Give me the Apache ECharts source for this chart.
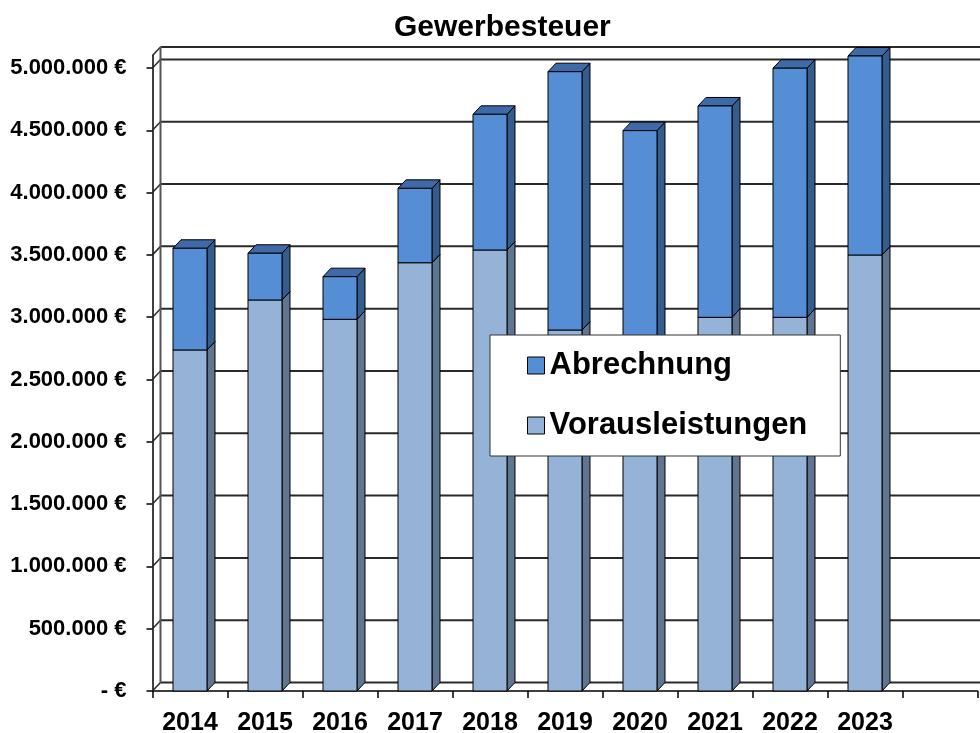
<!DOCTYPE html>
<html><head><meta charset="utf-8">
<script src="https://cdn.jsdelivr.net/npm/echarts@6/dist/echarts.min.js"></script>
<style>html,body{margin:0;padding:0;background:#fff}#c{width:980px;height:733px}</style>
</head><body><div id="c"></div>
<script>
// ---- data ----
const categories = ['2014','2015','2016','2017','2018','2019','2020','2021','2022','2023',''];
const vorausleistungen = [2737000, 3138000, 2983000, 3437000, 3539000, 2897000, 2600000, 2999000, 2999000, 3499000];
const abrechnung = [816000, 375000, 342000, 597000, 1089000, 2073000, 1897000, 1696000, 1999000, 1597000];
const yTicks = [0, 500000, 1000000, 1500000, 2000000, 2500000, 3000000, 3500000, 4000000, 4500000, 5000000];
const yMax = 5100000;
const seriesNames = ['Vorausleistungen', 'Abrechnung'];

// ---- styling ----
const DX = 8, DY = -8.5, BAR_RATIO = 0.453;
const FONT = 'Arial, "Liberation Sans", sans-serif';

function fmt(v) {
  if (v === 0) return '- €';
  if (v % 500000 !== 0) return '';
  return String(v).replace(/\B(?=(\d{3})+(?!\d))/g, '.') + ' €';
}

function barRenderer(front, side, top) {
  return function (params, api) {
    const i = api.value(0), base = api.value(1), val = api.value(2);
    const bw = api.size([1, 0])[0] * BAR_RATIO;
    const pB = api.coord([i, base]), pT = api.coord([i, base + val]);
    const xl = pB[0] - bw / 2, xr = pB[0] + bw / 2, yb = pB[1], yt = pT[1];
    const ls = { stroke: '#000', lineWidth: 1, lineJoin: 'round' };
    return { type: 'group', children: [
      { type: 'polygon', shape: { points: [[xr, yt], [xr + DX, yt + DY], [xr + DX, yb + DY], [xr, yb]] }, style: Object.assign({ fill: side }, ls) },
      { type: 'polygon', shape: { points: [[xl, yt], [xl + DX, yt + DY], [xr + DX, yt + DY], [xr, yt]] }, style: Object.assign({ fill: top }, ls) },
      { type: 'rect', shape: { x: xl, y: yt, width: bw, height: yb - yt }, style: Object.assign({ fill: front }, ls) }
    ]};
  };
}

function frameRender(params, api) {
  const bw = api.size([1, 0])[0];
  const x0 = api.coord([0, 0])[0] - bw / 2;
  const x1 = api.coord([categories.length - 1, 0])[0] + bw / 2;
  const children = [];
  const vals = yTicks.concat([yMax]);
  vals.forEach(function (v) {
    const y = api.coord([0, v])[1];
    children.push({ type: 'line', shape: { x1: x0 + DX, y1: y + DY, x2: x1 + DX + 20, y2: y + DY }, style: { stroke: '#2a2a2a', lineWidth: 2 } });
    children.push({ type: 'line', shape: { x1: x0, y1: y, x2: x0 + DX, y2: y + DY }, style: { stroke: '#2a2a2a', lineWidth: 1.5 } });
  });
  const yb = api.coord([0, 0])[1], yt = api.coord([0, yMax])[1];
  children.push({ type: 'line', shape: { x1: x0 + DX, y1: yb + DY, x2: x0 + DX, y2: yt + DY }, style: { stroke: '#555', lineWidth: 2 } });
  return { type: 'group', children: children };
}

const vorData = vorausleistungen.map(function (v, i) { return [i, 0, v]; });
const abrData = abrechnung.map(function (v, i) { return [i, vorausleistungen[i], v]; });

const chart = echarts.init(document.getElementById('c'), null, { renderer: 'canvas' });
chart.setOption({
  animation: false,
  backgroundColor: '#fff',
  title: {
    text: 'Gewerbesteuer', left: 394, top: 13, padding: 0,
    textStyle: { fontSize: 30, fontWeight: 'bold', fontFamily: FONT, color: '#000' }
  },
  legend: {
    data: [{ name: 'Abrechnung', icon: 'rect' }, { name: 'Vorausleistungen', icon: 'rect' }],
    orient: 'vertical', left: 490, top: 335,
    padding: [15, 33, 15, 37], itemGap: 29, itemWidth: 17, itemHeight: 17,
    backgroundColor: '#fff', borderColor: '#333', borderWidth: 1,
    selectedMode: false,
    itemStyle: { borderColor: '#000', borderWidth: 1 },
    textStyle: { fontSize: 31, fontWeight: 'bold', fontFamily: FONT, color: '#000' }
  },
  grid: { left: 152.5, right: 2.5, top: 55.5, bottom: 42, containLabel: false, outerBoundsMode: 'none' },
  xAxis: {
    type: 'category', data: categories, boundaryGap: true,
    axisLine: { show: true, lineStyle: { color: '#000', width: 1.5 } },
    axisTick: { show: true, length: 7, lineStyle: { color: '#000', width: 1.5 } },
    axisLabel: { interval: 0, margin: 20, fontSize: 25, fontWeight: 'bold', fontFamily: FONT, color: '#000' },
    splitLine: { show: false }
  },
  yAxis: {
    type: 'value', min: 0, max: yMax, interval: 500000,
    axisLine: { show: true, lineStyle: { color: '#000', width: 1.5 } },
    axisTick: { show: true, length: 6, customValues: yTicks, lineStyle: { color: '#000', width: 1.5 } },
    axisLabel: { customValues: yTicks, formatter: fmt, margin: 26, fontSize: 22, fontWeight: 'bold', fontFamily: FONT, color: '#000' },
    splitLine: { show: false }
  },
  series: [
    { type: 'custom', name: '_frame', data: [[0, 0, 0]], renderItem: frameRender, silent: true, z: 1, encode: { x: 0, y: 1 } },
    { type: 'custom', name: seriesNames[0], data: vorData, renderItem: barRenderer('#95B3D7', '#5F7590', '#7C97BC'), z: 2,
      itemStyle: { color: '#95B3D7' }, encode: { x: 0, y: 2 } },
    { type: 'custom', name: seriesNames[1], data: abrData, renderItem: barRenderer('#558ED5', '#345C8D', '#3E6BA8'), z: 3,
      itemStyle: { color: '#558ED5' }, encode: { x: 0, y: 2 } }
  ]
});
</script>
</body></html>
